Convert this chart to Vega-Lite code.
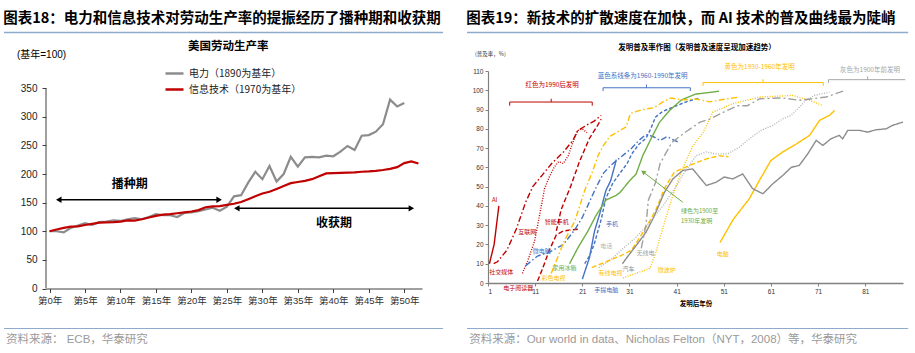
{
  "$schema": "https://vega.github.io/schema/vega-lite/v6.json",
  "padding": {"left": 3, "top": 11, "right": 0, "bottom": 0},
  "spacing": 22,
  "columns": 2,
  "align": "none",
  "resolve": {"scale": {"color": "independent", "strokeDash": "independent", "stroke": "independent", "fill": "independent"}, "legend": {"color": "independent", "strokeDash": "independent", "stroke": "independent", "fill": "independent"}},
  "config": {"view": {"stroke": null}, "axis": {"grid": false}},
  "datasets": {
    "prod": [
      {"year":0,"s":"电力（1890为基年）","v":100},{"year":1,"s":"电力（1890为基年）","v":100},{"year":2,"s":"电力（1890为基年）","v":98},{"year":3,"s":"电力（1890为基年）","v":106},{"year":4,"s":"电力（1890为基年）","v":110},{"year":5,"s":"电力（1890为基年）","v":114},{"year":6,"s":"电力（1890为基年）","v":111},{"year":7,"s":"电力（1890为基年）","v":116},{"year":8,"s":"电力（1890为基年）","v":117},{"year":9,"s":"电力（1890为基年）","v":119},{"year":10,"s":"电力（1890为基年）","v":118},{"year":11,"s":"电力（1890为基年）","v":121},{"year":12,"s":"电力（1890为基年）","v":123},{"year":13,"s":"电力（1890为基年）","v":121},{"year":14,"s":"电力（1890为基年）","v":125},{"year":15,"s":"电力（1890为基年）","v":130},{"year":16,"s":"电力（1890为基年）","v":128},{"year":17,"s":"电力（1890为基年）","v":128},{"year":18,"s":"电力（1890为基年）","v":125},{"year":19,"s":"电力（1890为基年）","v":132},{"year":20,"s":"电力（1890为基年）","v":133},{"year":21,"s":"电力（1890为基年）","v":135},{"year":22,"s":"电力（1890为基年）","v":138},{"year":23,"s":"电力（1890为基年）","v":141},{"year":24,"s":"电力（1890为基年）","v":136},{"year":25,"s":"电力（1890为基年）","v":143},{"year":26,"s":"电力（1890为基年）","v":161},{"year":27,"s":"电力（1890为基年）","v":163},{"year":28,"s":"电力（1890为基年）","v":185},{"year":29,"s":"电力（1890为基年）","v":204},{"year":30,"s":"电力（1890为基年）","v":191},{"year":31,"s":"电力（1890为基年）","v":214},{"year":32,"s":"电力（1890为基年）","v":187},{"year":33,"s":"电力（1890为基年）","v":200},{"year":34,"s":"电力（1890为基年）","v":230},{"year":35,"s":"电力（1890为基年）","v":213},{"year":36,"s":"电力（1890为基年）","v":229},{"year":37,"s":"电力（1890为基年）","v":230},{"year":38,"s":"电力（1890为基年）","v":229},{"year":39,"s":"电力（1890为基年）","v":232},{"year":40,"s":"电力（1890为基年）","v":231},{"year":41,"s":"电力（1890为基年）","v":239},{"year":42,"s":"电力（1890为基年）","v":249},{"year":43,"s":"电力（1890为基年）","v":242},{"year":44,"s":"电力（1890为基年）","v":267},{"year":45,"s":"电力（1890为基年）","v":268},{"year":46,"s":"电力（1890为基年）","v":274},{"year":47,"s":"电力（1890为基年）","v":287},{"year":48,"s":"电力（1890为基年）","v":330},{"year":49,"s":"电力（1890为基年）","v":318},{"year":50,"s":"电力（1890为基年）","v":324},
      {"year":0,"s":"信息技术（1970为基年）","v":100},{"year":1,"s":"信息技术（1970为基年）","v":103},{"year":2,"s":"信息技术（1970为基年）","v":106},{"year":3,"s":"信息技术（1970为基年）","v":108},{"year":4,"s":"信息技术（1970为基年）","v":108.5},{"year":5,"s":"信息技术（1970为基年）","v":111},{"year":6,"s":"信息技术（1970为基年）","v":113},{"year":7,"s":"信息技术（1970为基年）","v":115},{"year":8,"s":"信息技术（1970为基年）","v":115.5},{"year":9,"s":"信息技术（1970为基年）","v":116},{"year":10,"s":"信息技术（1970为基年）","v":117},{"year":11,"s":"信息技术（1970为基年）","v":119},{"year":12,"s":"信息技术（1970为基年）","v":118.5},{"year":13,"s":"信息技术（1970为基年）","v":121},{"year":14,"s":"信息技术（1970为基年）","v":124},{"year":15,"s":"信息技术（1970为基年）","v":127},{"year":16,"s":"信息技术（1970为基年）","v":129},{"year":17,"s":"信息技术（1970为基年）","v":130},{"year":18,"s":"信息技术（1970为基年）","v":131.5},{"year":19,"s":"信息技术（1970为基年）","v":133},{"year":20,"s":"信息技术（1970为基年）","v":134.5},{"year":21,"s":"信息技术（1970为基年）","v":137},{"year":22,"s":"信息技术（1970为基年）","v":142},{"year":23,"s":"信息技术（1970为基年）","v":143.5},{"year":24,"s":"信息技术（1970为基年）","v":144},{"year":25,"s":"信息技术（1970为基年）","v":146},{"year":26,"s":"信息技术（1970为基年）","v":148},{"year":27,"s":"信息技术（1970为基年）","v":151},{"year":28,"s":"信息技术（1970为基年）","v":156},{"year":29,"s":"信息技术（1970为基年）","v":161},{"year":30,"s":"信息技术（1970为基年）","v":166},{"year":31,"s":"信息技术（1970为基年）","v":169},{"year":32,"s":"信息技术（1970为基年）","v":174},{"year":33,"s":"信息技术（1970为基年）","v":179},{"year":34,"s":"信息技术（1970为基年）","v":184},{"year":35,"s":"信息技术（1970为基年）","v":186},{"year":36,"s":"信息技术（1970为基年）","v":188},{"year":37,"s":"信息技术（1970为基年）","v":191},{"year":38,"s":"信息技术（1970为基年）","v":196},{"year":39,"s":"信息技术（1970为基年）","v":201},{"year":40,"s":"信息技术（1970为基年）","v":201.5},{"year":41,"s":"信息技术（1970为基年）","v":202},{"year":42,"s":"信息技术（1970为基年）","v":202.5},{"year":43,"s":"信息技术（1970为基年）","v":203},{"year":44,"s":"信息技术（1970为基年）","v":204},{"year":45,"s":"信息技术（1970为基年）","v":204.5},{"year":46,"s":"信息技术（1970为基年）","v":205.5},{"year":47,"s":"信息技术（1970为基年）","v":207},{"year":48,"s":"信息技术（1970为基年）","v":209},{"year":49,"s":"信息技术（1970为基年）","v":212},{"year":50,"s":"信息技术（1970为基年）","v":219},{"year":51,"s":"信息技术（1970为基年）","v":222},{"year":52,"s":"信息技术（1970为基年）","v":218.5}
    ],
    "arrows1": [
      {"x1": 1.3, "x2": 23.9, "y": 155},
      {"x1": 26.4, "x2": 51.0, "y": 140}
    ],
    "phase1": [
      {"label": "播种期", "x": 11.3, "y": 183},
      {"label": "收获期", "x": 40.1, "y": 114}
    ],
    "adopt": [
      {"s":"AI","t":1.3,"v":10},{"s":"AI","t":2.3,"v":20},{"s":"AI","t":3.3,"v":40},
      {"s":"社交媒体","t":2.2,"v":10},{"s":"社交媒体","t":3,"v":11},{"s":"社交媒体","t":5,"v":17},{"s":"社交媒体","t":7,"v":28},{"s":"社交媒体","t":9,"v":42},{"s":"社交媒体","t":10.5,"v":50},{"s":"社交媒体","t":12.5,"v":56},{"s":"社交媒体","t":14.5,"v":62},{"s":"社交媒体","t":17,"v":68},{"s":"社交媒体","t":19,"v":74},{"s":"社交媒体","t":20,"v":79},{"s":"社交媒体","t":22,"v":82},{"s":"社交媒体","t":23.5,"v":84},{"s":"社交媒体","t":25,"v":87},
      {"s":"互联网","t":8.3,"v":5},{"s":"互联网","t":9.5,"v":12},{"s":"互联网","t":10.9,"v":22},{"s":"互联网","t":12,"v":36},{"s":"互联网","t":13,"v":49},{"s":"互联网","t":14,"v":55},{"s":"互联网","t":15,"v":60},{"s":"互联网","t":16,"v":63},{"s":"互联网","t":17,"v":62},{"s":"互联网","t":18,"v":66},{"s":"互联网","t":19,"v":73},{"s":"互联网","t":20,"v":79},{"s":"互联网","t":21,"v":80},{"s":"互联网","t":22,"v":78},
      {"s":"智能手机","t":15.5,"v":27},{"s":"智能手机","t":16.5,"v":38},{"s":"智能手机","t":18.5,"v":50},{"s":"智能手机","t":20.4,"v":63},{"s":"智能手机","t":22.5,"v":75},{"s":"智能手机","t":24.3,"v":82},{"s":"智能手机","t":25,"v":85},
      {"s":"电子阅读器","t":11.5,"v":1},{"s":"电子阅读器","t":12.5,"v":7},{"s":"电子阅读器","t":14,"v":17},{"s":"电子阅读器","t":15.5,"v":25},{"s":"电子阅读器","t":17,"v":27},{"s":"电子阅读器","t":18.5,"v":27.5},{"s":"电子阅读器","t":20.5,"v":28},
      {"s":"微电脑","t":9,"v":9},{"s":"微电脑","t":11.5,"v":14},{"s":"微电脑","t":14,"v":16},{"s":"微电脑","t":17,"v":20},{"s":"微电脑","t":19.5,"v":28},{"s":"微电脑","t":21,"v":34},{"s":"微电脑","t":22.5,"v":42},{"s":"微电脑","t":24,"v":50},{"s":"微电脑","t":25.5,"v":57},{"s":"微电脑","t":27,"v":61},{"s":"微电脑","t":28.5,"v":64},{"s":"微电脑","t":30,"v":67},{"s":"微电脑","t":31.5,"v":70},{"s":"微电脑","t":33,"v":74},{"s":"微电脑","t":34.5,"v":77},{"s":"微电脑","t":36,"v":76},{"s":"微电脑","t":37.5,"v":74},{"s":"微电脑","t":39,"v":76},{"s":"微电脑","t":40.5,"v":74},{"s":"微电脑","t":41.5,"v":73},
      {"s":"手机","t":21.5,"v":10},{"s":"手机","t":22.5,"v":14},{"s":"手机","t":23.5,"v":20},{"s":"手机","t":25,"v":33},{"s":"手机","t":26,"v":44},{"s":"手机","t":27.5,"v":52},{"s":"手机","t":29,"v":57},{"s":"手机","t":30.5,"v":62},{"s":"手机","t":31.5,"v":67},{"s":"手机","t":33,"v":72},{"s":"手机","t":34.5,"v":75},{"s":"手机","t":35.5,"v":80},{"s":"手机","t":36.5,"v":86},{"s":"手机","t":38,"v":89},{"s":"手机","t":40,"v":91},{"s":"手机","t":43,"v":94},{"s":"手机","t":46,"v":96},
      {"s":"手提电脑","t":21,"v":2},{"s":"手提电脑","t":22.5,"v":13},{"s":"手提电脑","t":23.6,"v":27},{"s":"手提电脑","t":24.7,"v":36},{"s":"手提电脑","t":26,"v":48},{"s":"手提电脑","t":27,"v":53},{"s":"手提电脑","t":28,"v":62},{"s":"手提电脑","t":28.2,"v":64},
      {"s":"家用冰箱","t":18.3,"v":10},{"s":"家用冰箱","t":20,"v":18},{"s":"家用冰箱","t":22.2,"v":27},{"s":"家用冰箱","t":23.9,"v":35},{"s":"家用冰箱","t":26,"v":43},{"s":"家用冰箱","t":28.2,"v":45.5},{"s":"家用冰箱","t":29,"v":47},{"s":"家用冰箱","t":31,"v":53},{"s":"家用冰箱","t":32.4,"v":56.5},{"s":"家用冰箱","t":33.8,"v":66},{"s":"家用冰箱","t":35.6,"v":75},{"s":"家用冰箱","t":37.4,"v":83.5},{"s":"家用冰箱","t":39.5,"v":89.5},{"s":"家用冰箱","t":42,"v":95},{"s":"家用冰箱","t":45,"v":98},{"s":"家用冰箱","t":50,"v":99.5},
      {"s":"彩色电视","t":14.4,"v":5},{"s":"彩色电视","t":17.2,"v":22},{"s":"彩色电视","t":19.4,"v":32},{"s":"彩色电视","t":21.5,"v":48},{"s":"彩色电视","t":23.2,"v":58},{"s":"彩色电视","t":24.3,"v":66},{"s":"彩色电视","t":25.4,"v":71},{"s":"彩色电视","t":26.8,"v":76},{"s":"彩色电视","t":28.9,"v":79},{"s":"彩色电视","t":30.3,"v":81},{"s":"彩色电视","t":31.2,"v":88},{"s":"彩色电视","t":33.8,"v":90},{"s":"彩色电视","t":36.3,"v":91},{"s":"彩色电视","t":38.1,"v":94},{"s":"彩色电视","t":39.8,"v":96},{"s":"彩色电视","t":42.3,"v":95},{"s":"彩色电视","t":45,"v":95.5},{"s":"彩色电视","t":48,"v":94},{"s":"彩色电视","t":51.5,"v":95.5},{"s":"彩色电视","t":54.3,"v":96.5},
      {"s":"有线电视","t":23,"v":8},{"s":"有线电视","t":26,"v":11},{"s":"有线电视","t":29,"v":14},{"s":"有线电视","t":31.4,"v":17},{"s":"有线电视","t":33.8,"v":26},{"s":"有线电视","t":35.5,"v":33},{"s":"有线电视","t":36.7,"v":38.5},{"s":"有线电视","t":38.4,"v":49},{"s":"有线电视","t":40.5,"v":57.5},{"s":"有线电视","t":43.7,"v":61},{"s":"有线电视","t":47.3,"v":64.4},{"s":"有线电视","t":50,"v":66},{"s":"有线电视","t":52,"v":65.5},
      {"s":"微波炉","t":29.6,"v":2.6},{"s":"微波炉","t":35.3,"v":7.5},{"s":"微波炉","t":36.5,"v":15},{"s":"微波炉","t":38,"v":28},{"s":"微波炉","t":40,"v":44},{"s":"微波炉","t":42,"v":58},{"s":"微波炉","t":44.4,"v":71},{"s":"微波炉","t":46.6,"v":78},{"s":"微波炉","t":48.7,"v":88.7},{"s":"微波炉","t":52.9,"v":93},{"s":"微波炉","t":58.6,"v":96.5},{"s":"微波炉","t":65.6,"v":97.3},{"s":"微波炉","t":69.2,"v":94.8},{"s":"微波炉","t":72,"v":92},
      {"s":"电脑","t":50.2,"v":21},{"s":"电脑","t":53,"v":33},{"s":"电脑","t":56.4,"v":43.7},{"s":"电脑","t":58.5,"v":53},{"s":"电脑","t":61,"v":63.6},{"s":"电脑","t":63.5,"v":68},{"s":"电脑","t":66.3,"v":72},{"s":"电脑","t":69.2,"v":76.6},{"s":"电脑","t":71.3,"v":84.4},{"s":"电脑","t":73.4,"v":87},{"s":"电脑","t":74.5,"v":89.5},
      {"s":"汽车","t":29.5,"v":10},{"s":"汽车","t":30.7,"v":14},{"s":"汽车","t":32.4,"v":19.4},{"s":"汽车","t":34.5,"v":26.3},{"s":"汽车","t":36.3,"v":35},{"s":"汽车","t":38.4,"v":47},{"s":"汽车","t":40.2,"v":54},{"s":"汽车","t":42.3,"v":58.4},{"s":"汽车","t":44.4,"v":59.2},{"s":"汽车","t":47.3,"v":50.6},{"s":"汽车","t":49.4,"v":52.3},{"s":"汽车","t":51.1,"v":55},{"s":"汽车","t":52.9,"v":54},{"s":"汽车","t":55,"v":56.6},{"s":"汽车","t":57.1,"v":49},{"s":"汽车","t":59.3,"v":46.3},{"s":"汽车","t":61.4,"v":51.5},{"s":"汽车","t":63.5,"v":55.8},{"s":"汽车","t":65.3,"v":60},{"s":"汽车","t":67,"v":61},{"s":"汽车","t":68.8,"v":67},{"s":"汽车","t":70.6,"v":74},{"s":"汽车","t":72,"v":71.4},{"s":"汽车","t":73.7,"v":74.8},{"s":"汽车","t":75.5,"v":76.6},{"s":"汽车","t":76.2,"v":74.8},{"s":"汽车","t":77.3,"v":79.2},{"s":"汽车","t":79.8,"v":79.2},{"s":"汽车","t":81.5,"v":78.3},{"s":"汽车","t":83.3,"v":79.5},{"s":"汽车","t":85.4,"v":80},{"s":"汽车","t":86.8,"v":81.8},{"s":"汽车","t":89,"v":83.5},
      {"s":"电话","t":24.5,"v":8},{"s":"电话","t":27,"v":12},{"s":"电话","t":29.9,"v":18.5},{"s":"电话","t":32.4,"v":23.7},{"s":"电话","t":35.3,"v":31.5},{"s":"电话","t":38.1,"v":40},{"s":"电话","t":40.6,"v":49},{"s":"电话","t":42.7,"v":57.5},{"s":"电话","t":45.1,"v":66},{"s":"电话","t":47.3,"v":68},{"s":"电话","t":49.4,"v":67},{"s":"电话","t":51.8,"v":67},{"s":"电话","t":54.3,"v":70.5},{"s":"电话","t":56.4,"v":74.8},{"s":"电话","t":58.9,"v":79.2},{"s":"电话","t":61.4,"v":81.8},{"s":"电话","t":63.5,"v":85.2},{"s":"电话","t":65.3,"v":87},{"s":"电话","t":66.7,"v":90.4},{"s":"电话","t":68.4,"v":94.8},{"s":"电话","t":70.2,"v":97.3},{"s":"电话","t":73.4,"v":99},
      {"s":"无线电","t":33.5,"v":18},{"s":"无线电","t":34.5,"v":30},{"s":"无线电","t":35,"v":43},{"s":"无线电","t":36.5,"v":52},{"s":"无线电","t":37.5,"v":62},{"s":"无线电","t":40,"v":73},{"s":"无线电","t":43,"v":78.5},{"s":"无线电","t":46,"v":83.5},{"s":"无线电","t":48,"v":85},{"s":"无线电","t":51,"v":88.7},{"s":"无线电","t":54,"v":92},{"s":"无线电","t":56,"v":92},{"s":"无线电","t":58.6,"v":95.6},{"s":"无线电","t":63.5,"v":96},{"s":"无线电","t":67,"v":94.8},{"s":"无线电","t":72.7,"v":96.5},{"s":"无线电","t":76.3,"v":99.6}
    ],
    "labels2": [
      {"s":"AI","t":2.4,"v":43},{"s":"社交媒体","t":3.8,"v":5.5},{"s":"电子阅读器","t":7.4,"v":-2.8},{"s":"互联网","t":9.3,"v":26.3},{"s":"智能手机","t":15.6,"v":31.5},{"s":"微电脑","t":12.4,"v":16.4},{"s":"彩色电视","t":14.9,"v":2.6},{"s":"家用冰箱","t":17.2,"v":7.8},{"s":"手机","t":27.3,"v":30.7},{"s":"手提电脑","t":26.1,"v":-3.5},{"s":"电话","t":26.1,"v":19.4},{"s":"有线电视","t":27,"v":5.2},{"s":"汽车","t":30.8,"v":7.3},{"s":"无线电","t":34.4,"v":15.4},{"s":"微波炉","t":38.9,"v":6.8},{"s":"电脑","t":50.8,"v":15}
    ],
    "brackets": [
      {"g":"red","t":5.6,"t2":23.1,"v":93.9,"v2":93.9},{"g":"red","t":5.6,"t2":5.6,"v":93.9,"v2":92},{"g":"red","t":23.1,"t2":23.1,"v":93.9,"v2":92},{"g":"red","t":14.4,"t2":14.4,"v":93.9,"v2":95.6},
      {"g":"blue","t":25.4,"t2":43.9,"v":101.3,"v2":101.3},{"g":"blue","t":25.4,"t2":25.4,"v":101.3,"v2":99.6},{"g":"blue","t":43.9,"t2":43.9,"v":101.3,"v2":99.6},{"g":"blue","t":34.6,"t2":34.6,"v":101.3,"v2":103},
      {"g":"yellow","t":46.6,"t2":72.1,"v":104,"v2":104},{"g":"yellow","t":46.6,"t2":46.6,"v":104,"v2":102.3},{"g":"yellow","t":72.1,"t2":72.1,"v":104,"v2":102.3},{"g":"yellow","t":59.3,"t2":59.3,"v":104,"v2":105.7},
      {"g":"gray","t":73.2,"t2":89.5,"v":105.5,"v2":105.5},{"g":"gray","t":73.2,"t2":73.2,"v":105.5,"v2":103.8},{"g":"gray","t":81.5,"t2":81.5,"v":105.5,"v2":107.2}
    ],
    "bracketText": [
      {"g":"red","t":14.6,"v":102.5,"text":"红色为1990后发明"},
      {"g":"blue","t":33.8,"v":107.4,"text":"蓝色系线条为1960-1990年发明"},
      {"g":"yellow","t":58.6,"v":112,"text":"黄色为1930-1960年发明"},
      {"g":"gray","t":82,"v":110.7,"text":"灰色为1900年前发明"}
    ]
  },
  "concat": [
    {
      "width": 376,
      "height": 217.5,
      "title": {"text": "图表18：电力和信息技术对劳动生产率的提振经历了播种期和收获期", "anchor": "start", "frame": "bounds", "fontSize": 14.5, "fontWeight": "bold", "color": "#000000", "offset": 5, "font": "Noto Sans CJK SC"},
      "resolve": {"axis": {"x": "independent", "y": "independent"}},
      "layer": [
        {
          "data": {"name": "prod"},
          "mark": {"type": "line", "strokeWidth": 2.2},
          "encoding": {
            "x": {"field": "year", "type": "quantitative", "scale": {"domain": [-0.5, 52.5], "nice": false, "zero": false},
              "axis": {"orient": "bottom", "values": [0,5,10,15,20,25,30,35,40,45,50], "labelExpr": "'第' + datum.value + '年'", "title": null, "tickSize": 4, "labelPadding": 3, "labelFontSize": 9.5, "labelFont": "Liberation Sans, Noto Sans CJK SC", "labelColor": "#333333", "domainColor": "#404040", "tickColor": "#404040", "labelFlush": false, "labelOverlap": false, "grid": false}},
            "y": {"field": "v", "type": "quantitative", "scale": {"domain": [0, 380], "nice": false},
              "axis": {"orient": "left", "values": [0,50,100,150,200,250,300,350], "title": null, "domain": false, "tickSize": 4, "labelPadding": 5, "labelFontSize": 10, "labelFont": "Liberation Sans", "labelColor": "#222222", "tickColor": "#404040", "labelOverlap": false, "grid": false}},
            "color": {"field": "s", "type": "nominal",
              "scale": {"domain": ["电力（1890为基年）", "信息技术（1970为基年）"], "range": ["#8c8c8c", "#c00000"]},
              "legend": {"orient": "none", "legendX": 118, "legendY": -8, "title": null, "symbolType": "stroke", "symbolSize": 324, "symbolStrokeWidth": 2.5, "labelFontSize": 10, "labelFont": "Noto Sans CJK SC", "labelColor": "#222222", "rowPadding": 0, "labelOffset": 4, "direction": "vertical"}}
          }
        },
        {
          "data": {"values": [{}]},
          "mark": {"type": "rule", "stroke": "#404040", "strokeWidth": 1},
          "encoding": {
            "x": {"datum": -0.5, "type": "quantitative", "axis": null},
            "y": {"datum": 0, "type": "quantitative", "axis": null},
            "y2": {"datum": 350}
          }
        },
        {
          "data": {"values": [{}]},
          "mark": {"type": "rule", "stroke": "#8eaacc", "strokeWidth": 1.5},
          "encoding": {
            "x": {"datum": -6.42, "type": "quantitative", "axis": null},
            "x2": {"datum": 55.47},
            "y": {"datum": 447.2, "type": "quantitative", "axis": null}
          }
        },
        {
          "data": {"values": [{}]},
          "mark": {"type": "rule", "stroke": "#8eaacc", "strokeWidth": 1.2},
          "encoding": {
            "x": {"datum": -6.42, "type": "quantitative", "axis": null},
            "x2": {"datum": 55.47},
            "y": {"datum": -69.9, "type": "quantitative", "axis": null}
          }
        },
        {
          "data": {"values": [{}]},
          "mark": {"type": "text", "text": "资料来源：  ECB，华泰研究", "font": "Liberation Sans, Noto Sans CJK SC", "fontSize": 11.5, "color": "#9a9a9a", "align": "left", "baseline": "middle"},
          "encoding": {
            "x": {"datum": -6.14, "type": "quantitative", "axis": null},
            "y": {"datum": -90.8, "type": "quantitative", "axis": null}
          }
        },
        {
          "data": {"values": [{}]},
          "mark": {"type": "text", "text": "美国劳动生产率", "font": "Noto Sans CJK SC", "fontSize": 11.5, "fontWeight": "bold", "color": "#000000", "align": "center", "baseline": "middle"},
          "encoding": {
            "x": {"datum": 25.2, "type": "quantitative", "axis": null},
            "y": {"datum": 421.6, "type": "quantitative", "axis": null}
          }
        },
        {
          "data": {"values": [{}]},
          "mark": {"type": "text", "text": "(基年=100)", "font": "Liberation Sans, Noto Sans CJK SC", "fontSize": 10, "color": "#000000", "align": "left", "baseline": "middle"},
          "encoding": {
            "x": {"datum": -4.6, "type": "quantitative", "axis": null},
            "y": {"datum": 408.3, "type": "quantitative", "axis": null}
          }
        },
        {
          "data": {"name": "arrows1"},
          "mark": {"type": "rule", "stroke": "#000000", "strokeWidth": 1.5},
          "encoding": {
            "x": {"field": "x1", "type": "quantitative", "axis": null},
            "x2": {"field": "x2"},
            "y": {"field": "y", "type": "quantitative", "axis": null}
          }
        },
        {
          "data": {"name": "arrows1"},
          "mark": {"type": "point", "shape": "triangle-left", "filled": true, "color": "#000000", "size": 40, "opacity": 1},
          "encoding": {
            "x": {"field": "x1", "type": "quantitative", "axis": null},
            "y": {"field": "y", "type": "quantitative", "axis": null}
          }
        },
        {
          "data": {"name": "arrows1"},
          "mark": {"type": "point", "shape": "triangle-right", "filled": true, "color": "#000000", "size": 40, "opacity": 1},
          "encoding": {
            "x": {"field": "x2", "type": "quantitative", "axis": null},
            "y": {"field": "y", "type": "quantitative", "axis": null}
          }
        },
        {
          "data": {"name": "phase1"},
          "mark": {"type": "text", "font": "Noto Sans CJK SC", "fontSize": 12, "fontWeight": "bold", "color": "#000000", "align": "center", "baseline": "middle"},
          "encoding": {
            "x": {"field": "x", "type": "quantitative", "axis": null},
            "y": {"field": "y", "type": "quantitative", "axis": null},
            "text": {"field": "label"}
          }
        }
      ]
    },
    {
      "width": 415,
      "height": 212,
      "title": {"text": "图表19：新技术的扩散速度在加快，而 AI 技术的普及曲线最为陡峭", "anchor": "start", "frame": "bounds", "fontSize": 14.5, "fontWeight": "bold", "color": "#000000", "offset": 5, "font": "Noto Sans CJK SC"},
      "resolve": {"axis": {"x": "independent", "y": "independent"}},
      "layer": [
        {
          "data": {"name": "adopt"},
          "mark": {"type": "line", "strokeWidth": 1.4},
          "encoding": {
            "x": {"field": "t", "type": "quantitative", "scale": {"domain": [1, 89], "nice": false, "zero": false},
              "axis": {"orient": "bottom", "values": [1,11,21,31,41,51,61,71,81], "title": "发明后年份", "titleFont": "Noto Sans CJK SC", "titleFontSize": 6.5, "titleFontWeight": "bold", "titleColor": "#000000", "titlePadding": 6, "tickSize": 3, "labelPadding": 2, "labelFontSize": 6.5, "labelFont": "Liberation Sans", "labelColor": "#333333", "domainColor": "#808080", "tickColor": "#808080", "domainWidth": 1.5, "labelOverlap": false, "grid": false}},
            "y": {"field": "v", "type": "quantitative", "scale": {"domain": [0, 110], "nice": false},
              "axis": {"orient": "left", "values": [0,10,20,30,40,50,60,70,80,90,100,110], "title": null, "tickSize": 3, "labelPadding": 2, "labelFontSize": 6.5, "labelFont": "Liberation Sans", "labelColor": "#333333", "domainColor": "#808080", "tickColor": "#808080", "domainWidth": 1.2, "labelOverlap": false, "grid": false}},
            "color": {"field": "s", "type": "nominal", "legend": null,
              "scale": {"domain": ["AI","社交媒体","互联网","智能手机","电子阅读器","微电脑","手机","手提电脑","家用冰箱","彩色电视","有线电视","微波炉","电脑","汽车","电话","无线电"],
                "range": ["#c00000","#c00000","#c00000","#c00000","#c00000","#4472c4","#4472c4","#4472c4","#70ad47","#ffc000","#ffc000","#ffc000","#ffc000","#8c8c8c","#b4b4b4","#a0a0a0"]}},
            "strokeDash": {"field": "s", "type": "nominal", "legend": null,
              "scale": {"domain": ["AI","社交媒体","互联网","智能手机","电子阅读器","微电脑","手机","手提电脑","家用冰箱","彩色电视","有线电视","微波炉","电脑","汽车","电话","无线电"],
                "range": [[1,0],[6,2.5,1.5,2.5],[1,1.5],[5,2.5],[5,2.5],[6,2.5,1.5,2.5],[3.5,2],[1,0],[1,0],[6,2.5,1.5,2.5],[5,2.5],[1,1.5],[1,0],[1,0],[1,1.5],[8,3,2,3]]}}
          }
        },
        {
          "data": {"values": [{}]},
          "mark": {"type": "rule", "stroke": "#8eaacc", "strokeWidth": 1.5},
          "encoding": {
            "x": {"datum": -3.45, "type": "quantitative", "axis": null},
            "x2": {"datum": 90.1},
            "y": {"datum": 130, "type": "quantitative", "axis": null}
          }
        },
        {
          "data": {"values": [{}]},
          "mark": {"type": "rule", "stroke": "#8eaacc", "strokeWidth": 1.2},
          "encoding": {
            "x": {"datum": -3.45, "type": "quantitative", "axis": null},
            "x2": {"datum": 90.1},
            "y": {"datum": -23.6, "type": "quantitative", "axis": null}
          }
        },
        {
          "data": {"values": [{}]},
          "mark": {"type": "text", "text": "资料来源：Our world in data、Nicholas Felton（NYT，2008）等，华泰研究", "font": "Liberation Sans, Noto Sans CJK SC", "fontSize": 11.5, "color": "#9a9a9a", "align": "left", "baseline": "middle"},
          "encoding": {
            "x": {"datum": -3.0, "type": "quantitative", "axis": null},
            "y": {"datum": -29.8, "type": "quantitative", "axis": null}
          }
        },
        {
          "data": {"values": [{}]},
          "mark": {"type": "text", "text": "发明普及率作图（发明普及速度呈现加速趋势）", "font": "Noto Sans CJK SC", "fontSize": 7.5, "fontWeight": "bold", "color": "#000000", "align": "center", "baseline": "middle"},
          "encoding": {
            "x": {"datum": 45.3, "type": "quantitative", "axis": null},
            "y": {"datum": 121.7, "type": "quantitative", "axis": null}
          }
        },
        {
          "data": {"values": [{}]},
          "mark": {"type": "text", "text": "(普及率，%)", "font": "Noto Sans CJK SC", "fontSize": 5.5, "color": "#333333", "align": "left", "baseline": "middle"},
          "encoding": {
            "x": {"datum": -1.76, "type": "quantitative", "axis": null},
            "y": {"datum": 118.6, "type": "quantitative", "axis": null}
          }
        },
        {
          "data": {"name": "brackets"},
          "mark": {"type": "rule", "strokeWidth": 1},
          "encoding": {
            "x": {"field": "t", "type": "quantitative", "axis": null},
            "x2": {"field": "t2"},
            "y": {"field": "v", "type": "quantitative", "axis": null},
            "y2": {"field": "v2"},
            "stroke": {"field": "g", "type": "nominal", "scale": {"domain": ["red","blue","yellow","gray"], "range": ["#c00000","#4472c4","#ffc000","#a6a6a6"]}, "legend": null}
          }
        },
        {
          "data": {"name": "bracketText"},
          "mark": {"type": "text", "font": "Noto Sans CJK SC", "fontSize": 6.5, "align": "center", "baseline": "middle"},
          "encoding": {
            "x": {"field": "t", "type": "quantitative", "axis": null},
            "y": {"field": "v", "type": "quantitative", "axis": null},
            "text": {"field": "text"},
            "fill": {"field": "g", "type": "nominal", "scale": {"domain": ["red","blue","yellow","gray"], "range": ["#c00000","#4472c4","#ffc000","#a6a6a6"]}, "legend": null}
          }
        },
        {
          "data": {"values": [{}]},
          "mark": {"type": "rule", "stroke": "#70ad47", "strokeWidth": 1},
          "encoding": {
            "x": {"datum": 42.3, "type": "quantitative", "axis": null},
            "x2": {"datum": 33.9},
            "y": {"datum": 41.9, "type": "quantitative", "axis": null},
            "y2": {"datum": 57.6}
          }
        },
        {
          "data": {"values": [{}]},
          "mark": {"type": "point", "shape": "triangle-up", "filled": true, "color": "#70ad47", "size": 28, "angle": 307, "opacity": 1},
          "encoding": {
            "x": {"datum": 33.9, "type": "quantitative", "axis": null},
            "y": {"datum": 57.6, "type": "quantitative", "axis": null}
          }
        },
        {
          "data": {"values": [{}]},
          "mark": {"type": "text", "text": ["绿色为1900至", "1930年发明"], "lineHeight": 9.5, "font": "Noto Sans CJK SC", "fontSize": 6, "color": "#70ad47", "align": "left", "baseline": "top"},
          "encoding": {
            "x": {"datum": 41.9, "type": "quantitative", "axis": null},
            "y": {"datum": 38.8, "type": "quantitative", "axis": null}
          }
        },
        {
          "data": {"name": "labels2"},
          "mark": {"type": "text", "font": "Noto Sans CJK SC", "fontSize": 6, "align": "center", "baseline": "middle"},
          "encoding": {
            "x": {"field": "t", "type": "quantitative", "axis": null},
            "y": {"field": "v", "type": "quantitative", "axis": null},
            "text": {"field": "s"},
            "color": {"field": "s", "type": "nominal", "legend": null}
          }
        }
      ]
    }
  ]
}
